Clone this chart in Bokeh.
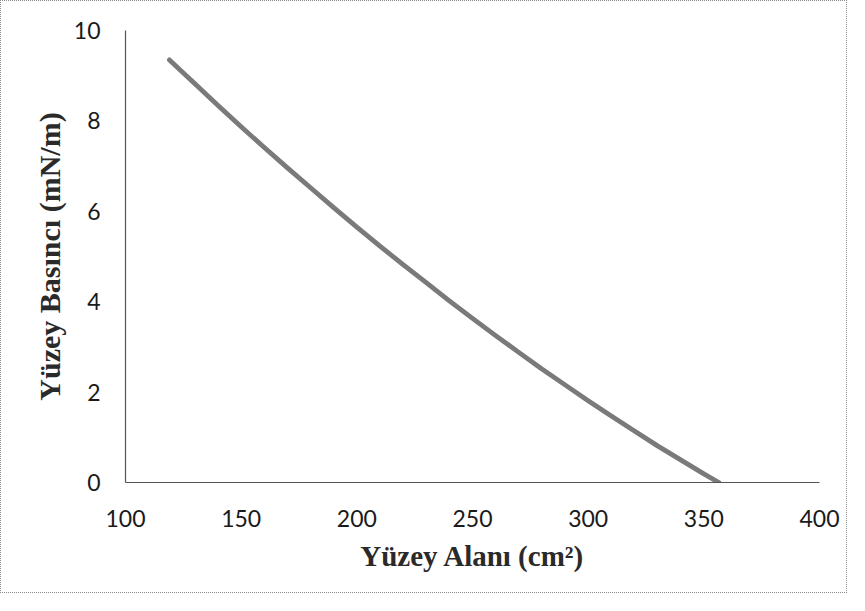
from bokeh.plotting import figure
from bokeh.models import Range1d, FixedTicker
from bokeh.embed import file_html
from bokeh.resources import INLINE

# Surface area (cm^2) vs surface pressure (mN/m)
area = [119, 130, 140, 150, 160, 170, 180, 190, 200, 210, 220, 230, 240, 250,
        260, 270, 280, 290, 300, 310, 320, 330, 340, 350, 356.5]
pressure = [9.35, 8.82, 8.34, 7.87, 7.41, 6.96, 6.52, 6.08, 5.65, 5.23, 4.82, 4.42, 4.02, 3.63,
            3.25, 2.88, 2.51, 2.16, 1.81, 1.47, 1.14, 0.81, 0.50, 0.19, 0.0]

x_ticks = [100, 150, 200, 250, 300, 350, 400]
y_ticks = [0, 2, 4, 6, 8, 10]

W, H = 847, 593
p = figure(width=W, height=H, output_backend="svg", toolbar_location=None,
           x_range=Range1d(100, 400), y_range=Range1d(0, 10),
           min_border_left=124, min_border_right=29, min_border_top=29, min_border_bottom=112)
p.styles = {"border": "1px dotted #8a8a8a"}
p.background_fill_color = "white"
p.border_fill_color = "white"
p.outline_line_color = None
p.xgrid.visible = False
p.ygrid.visible = False

p.line(area, pressure, line_color="#7a7a7a", line_width=4.8, line_cap="round", line_join="round")

for ax, ticks in ((p.xaxis, x_ticks), (p.yaxis, y_ticks)):
    ax.ticker = FixedTicker(ticks=ticks)
    ax.major_tick_line_color = None
    ax.minor_tick_line_color = None
    ax.axis_line_color = "#555555"
    ax.axis_line_width = 1.2
    ax.major_label_text_font = "Lato"
    ax.major_label_text_font_size = "23px"
    ax.major_label_text_color = "#1a1a1a"
    ax.axis_label_text_font = "Liberation Serif"
    ax.axis_label_text_font_style = "bold"
    ax.axis_label_text_color = "#2a2a2a"

p.xaxis.axis_label = "Yüzey Alanı (cm²)"
p.yaxis.axis_label = "Yüzey Basıncı (mN/m)"
p.xaxis.axis_label_text_font_size = "29px"
p.yaxis.axis_label_text_font_size = "30px"
p.xaxis.major_label_standoff = 21
p.yaxis.major_label_standoff = 19
p.xaxis.axis_label_standoff = 10
p.yaxis.axis_label_standoff = 5

open("out.html", "w").write(file_html(p, INLINE))
